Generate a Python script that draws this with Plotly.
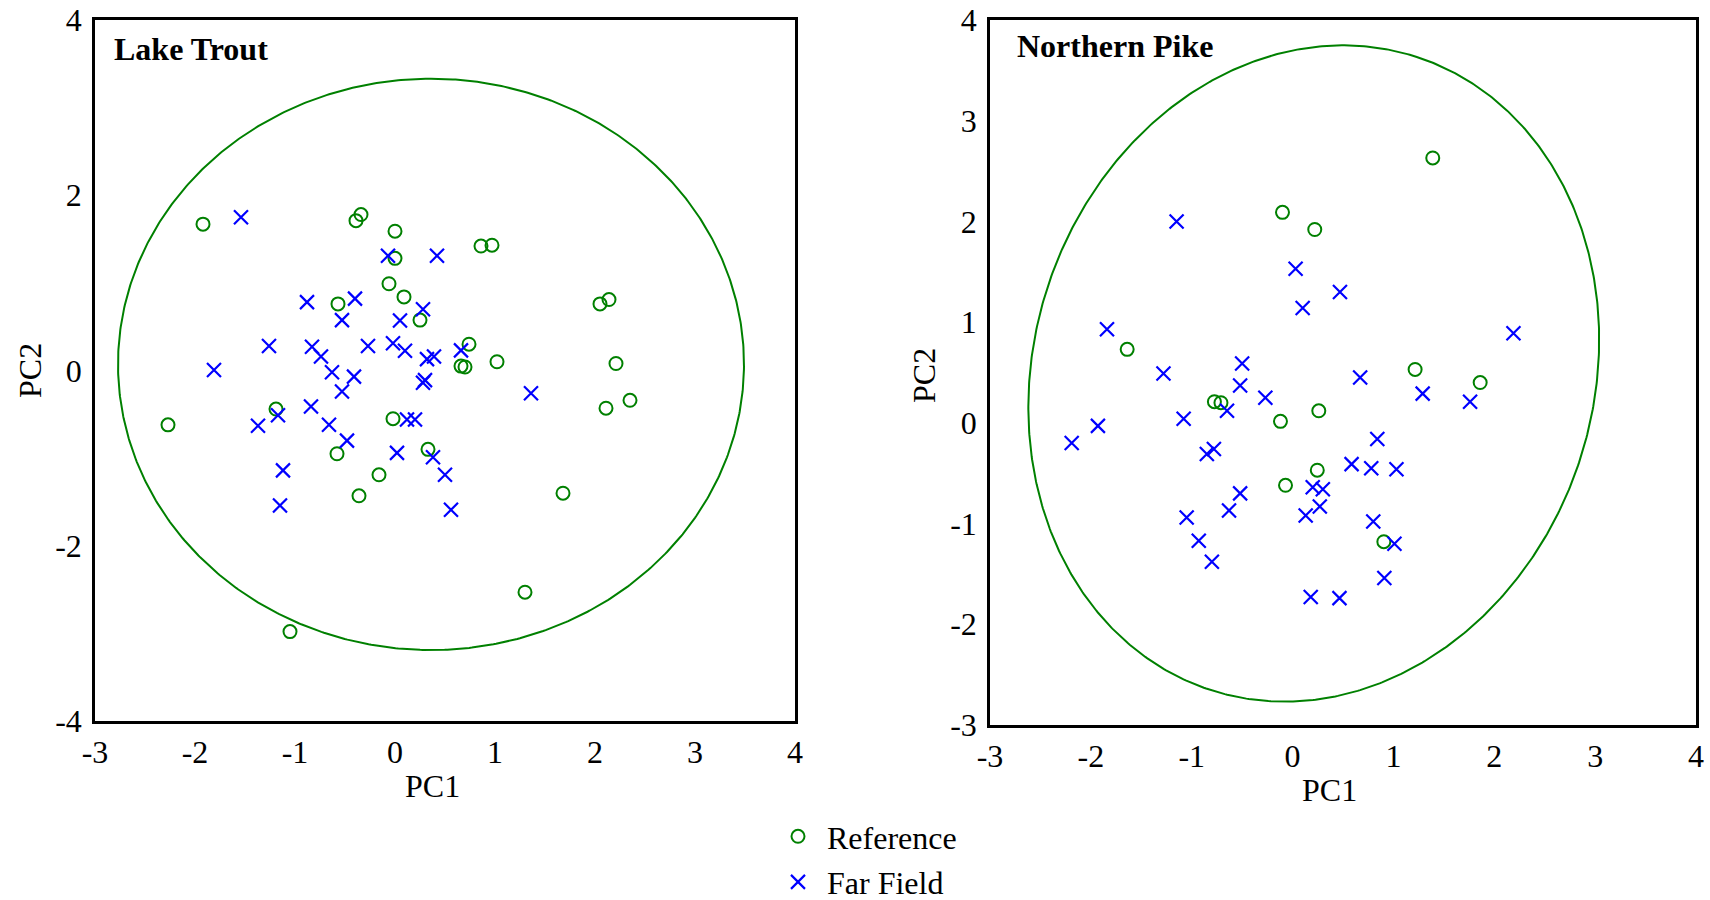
import numpy as np
import plotly.graph_objects as go

# ---------------- data ----------------
lt_ref_x = [-1.92, -0.34, -0.39, 0.00, 0.00, -0.06, 0.09, -0.57, 0.25, 0.86, 0.97, 0.74, 0.66, 0.70, 1.02,
            2.05, 2.14, 2.21, 2.11, 2.35, -1.19, -2.27, -0.02, -0.58, 0.33, -0.16, -0.36, 1.68, 1.30, -1.05]
lt_ref_y = [1.67, 1.78, 1.71, 1.59, 1.28, 0.99, 0.84, 0.76, 0.575, 1.42, 1.43, 0.30, 0.05, 0.04, 0.10,
            0.76, 0.81, 0.08, -0.43, -0.34, -0.44, -0.62, -0.55, -0.95, -0.90, -1.19, -1.43, -1.40, -2.53, -2.98]

lt_far_x = [-1.54, -0.07, 0.42, -0.88, -0.40, -0.53, 0.05, 0.28, -1.26, -0.83, -0.74, -0.27, -0.02, 0.10,
            0.32, 0.39, 0.66, -1.81, -0.63, -0.41, -0.53, 0.28, 0.30, 1.36, -1.37, -1.17, -0.84, -0.66,
            -0.48, 0.12, 0.20, 0.02, 0.38, -1.12, 0.50, -1.15, 0.56]
lt_far_y = [1.75, 1.31, 1.31, 0.78, 0.82, 0.575, 0.57, 0.70, 0.28, 0.27, 0.16, 0.28, 0.31, 0.225,
            0.13, 0.16, 0.23, 0.005, -0.02, -0.07, -0.24, -0.14, -0.11, -0.26, -0.63, -0.51, -0.41, -0.62,
            -0.80, -0.56, -0.56, -0.94, -0.99, -1.14, -1.19, -1.54, -1.59]

np_ref_x = [-0.10, 0.22, 1.39, -1.64, -0.775, -0.71, -0.12, 0.26, 1.215, 1.86, 0.245, -0.07, 0.905]
np_ref_y = [2.09, 1.92, 2.63, 0.73, 0.21, 0.20, 0.015, 0.12, 0.53, 0.40, -0.47, -0.62, -1.18]

np_far_x = [-1.15, 0.03, 0.47, 0.10, -1.84, -1.28, -0.50, -0.52, -0.27, -0.65, -1.08, -1.93, -2.19,
            -0.78, -0.85, 0.67, 2.19, 1.29, 1.76, 0.84, 0.585, 0.78, 1.03, -0.52, -0.63, 0.20, 0.30,
            0.27, 0.13, -1.05, -0.93, -0.80, 0.18, 0.465, 0.80, 1.01, 0.91]
np_far_y = [2.00, 1.53, 1.30, 1.14, 0.93, 0.49, 0.59, 0.37, 0.25, 0.12, 0.04, -0.03, -0.20,
            -0.26, -0.31, 0.45, 0.89, 0.29, 0.21, -0.16, -0.41, -0.45, -0.46, -0.70, -0.87, -0.64, -0.66,
            -0.83, -0.92, -0.94, -1.17, -1.38, -1.73, -1.74, -0.98, -1.20, -1.54]

# confidence ellipses: centre, semi-axes, tilt of the first axis from vertical (degrees)
lt_ellipse = dict(cx=0.36, cy=0.07, a=3.26, b=3.13, tilt=0.0)
np_ellipse = dict(cx=0.21, cy=0.49, a=3.305, b=2.775, tilt=18.0)

panel_titles = ["Lake Trout", "Northern Pike"]
series_names = ["Reference", "Far Field"]
lt_xticks = [-3, -2, -1, 0, 1, 2, 3, 4]
lt_yticks = [-4, -2, 0, 2, 4]
np_xticks = [-3, -2, -1, 0, 1, 2, 3, 4]
np_yticks = [-3, -2, -1, 0, 1, 2, 3, 4]

# ---------------- styling ----------------
W, H = 1710, 900
FONT = "Liberation Serif, Times New Roman, serif"
GREEN = "#008000"
BLUE = "#0000FF"
FS = 32


def px(X):
    return X / W


def py(Y):
    return 1 - Y / H


def ellipse_xy(e, n=721):
    t = np.linspace(0, 2 * np.pi, n)
    phi = np.deg2rad(e["tilt"])
    ux, uy = np.sin(phi), np.cos(phi)
    vx, vy = np.cos(phi), -np.sin(phi)
    x = e["cx"] + e["a"] * np.cos(t) * ux + e["b"] * np.sin(t) * vx
    y = e["cy"] + e["a"] * np.cos(t) * uy + e["b"] * np.sin(t) * vy
    return x, y


def labels(vals):
    return [str(v) for v in vals]  # plain hyphen minus, as in the original


fig = go.Figure()

ref_marker = dict(symbol="circle-open", size=13, color=GREEN, line=dict(width=2, color=GREEN))
far_marker = dict(symbol="x-thin-open", size=14, color=BLUE, line=dict(width=2.2, color=BLUE))

# Lake Trout panel
ex, ey = ellipse_xy(lt_ellipse)
fig.add_trace(go.Scatter(x=ex, y=ey, mode="lines", line=dict(color=GREEN, width=2),
                         showlegend=False, hoverinfo="skip", xaxis="x", yaxis="y"))
fig.add_trace(go.Scatter(x=lt_ref_x, y=lt_ref_y, mode="markers", marker=ref_marker,
                         name=series_names[0], legendgroup="ref", showlegend=True,
                         xaxis="x", yaxis="y"))
fig.add_trace(go.Scatter(x=lt_far_x, y=lt_far_y, mode="markers", marker=far_marker,
                         name=series_names[1], legendgroup="far", showlegend=True,
                         xaxis="x", yaxis="y"))

# Northern Pike panel
ex, ey = ellipse_xy(np_ellipse)
fig.add_trace(go.Scatter(x=ex, y=ey, mode="lines", line=dict(color=GREEN, width=2),
                         showlegend=False, hoverinfo="skip", xaxis="x2", yaxis="y2"))
fig.add_trace(go.Scatter(x=np_ref_x, y=np_ref_y, mode="markers", marker=ref_marker,
                         name=series_names[0], legendgroup="ref", showlegend=False,
                         xaxis="x2", yaxis="y2"))
fig.add_trace(go.Scatter(x=np_far_x, y=np_far_y, mode="markers", marker=far_marker,
                         name=series_names[1], legendgroup="far", showlegend=False,
                         xaxis="x2", yaxis="y2"))

axis_common = dict(showgrid=False, zeroline=False, showline=True, mirror=True, automargin=False,
                   linecolor="black", linewidth=2.5, ticks="outside",
                   tickcolor="rgba(0,0,0,0)", tickfont=dict(family=FONT, size=FS, color="black"))

fig.update_layout(
    width=W, height=H,
    margin=dict(l=0, r=0, t=0, b=0, autoexpand=False),
    paper_bgcolor="white", plot_bgcolor="white",
    font=dict(family=FONT, size=FS, color="black"),
    xaxis=dict(domain=[px(95), px(795)], range=[-3, 4], tickvals=lt_xticks,
               ticktext=labels(lt_xticks), ticklen=1, anchor="y", **axis_common),
    yaxis=dict(domain=[py(721), py(20)], range=[-4, 4], tickvals=lt_yticks,
               ticktext=labels(lt_yticks), ticklen=4, anchor="x", **axis_common),
    xaxis2=dict(domain=[px(990), px(1696)], range=[-3, 4], tickvals=np_xticks,
                ticktext=labels(np_xticks), ticklen=1, anchor="y2", **axis_common),
    yaxis2=dict(domain=[py(725), py(20)], range=[-3, 4], tickvals=np_yticks,
                ticktext=labels(np_yticks), ticklen=4, anchor="x2", **axis_common),
    legend=dict(x=px(769), y=py(809), xanchor="left", yanchor="top",
                font=dict(family=FONT, size=FS, color="black"),
                itemwidth=48, tracegroupgap=1, bgcolor="rgba(0,0,0,0)"),
    showlegend=True,
)

annots = [
    dict(text="<b>%s</b>" % panel_titles[0], x=px(112), y=py(49), xanchor="left", yanchor="middle"),
    dict(text="<b>%s</b>" % panel_titles[1], x=px(1015), y=py(46), xanchor="left", yanchor="middle"),
    dict(text="PC1", x=px(432), y=py(786), xanchor="center", yanchor="middle"),
    dict(text="PC1", x=px(1329), y=py(790), xanchor="center", yanchor="middle"),
    dict(text="PC2", x=px(30), y=py(371), xanchor="center", yanchor="middle", textangle=-90),
    dict(text="PC2", x=px(924), y=py(376), xanchor="center", yanchor="middle", textangle=-90),
]
for a in annots:
    fig.add_annotation(xref="paper", yref="paper", showarrow=False,
                       font=dict(family=FONT, size=FS, color="black"), **a)

fig.write_html("out.html")
